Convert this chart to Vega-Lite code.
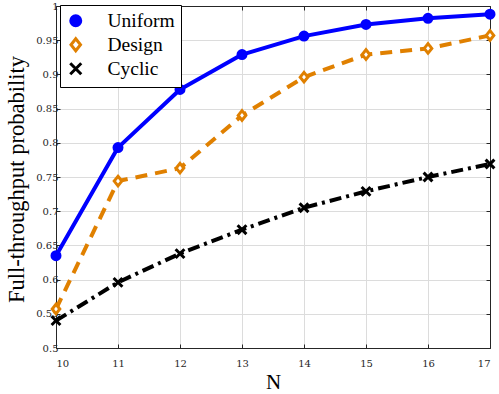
{
  "$schema": "https://vega.github.io/schema/vega-lite/v6.json",
  "width": 434,
  "height": 342,
  "autosize": {"type": "none"},
  "padding": {"left": 56, "top": 6, "right": 9, "bottom": 46},
  "background": "white",
  "data": {
    "values": [
      {"N": 10, "p": 0.635, "series": "Uniform"},
      {"N": 11, "p": 0.793, "series": "Uniform"},
      {"N": 12, "p": 0.878, "series": "Uniform"},
      {"N": 13, "p": 0.929, "series": "Uniform"},
      {"N": 14, "p": 0.956, "series": "Uniform"},
      {"N": 15, "p": 0.973, "series": "Uniform"},
      {"N": 16, "p": 0.982, "series": "Uniform"},
      {"N": 17, "p": 0.988, "series": "Uniform"},
      {"N": 10, "p": 0.557, "series": "Design"},
      {"N": 11, "p": 0.744, "series": "Design"},
      {"N": 12, "p": 0.763, "series": "Design"},
      {"N": 13, "p": 0.840, "series": "Design"},
      {"N": 14, "p": 0.896, "series": "Design"},
      {"N": 15, "p": 0.929, "series": "Design"},
      {"N": 16, "p": 0.938, "series": "Design"},
      {"N": 17, "p": 0.957, "series": "Design"},
      {"N": 10, "p": 0.540, "series": "Cyclic"},
      {"N": 11, "p": 0.596, "series": "Cyclic"},
      {"N": 12, "p": 0.638, "series": "Cyclic"},
      {"N": 13, "p": 0.673, "series": "Cyclic"},
      {"N": 14, "p": 0.705, "series": "Cyclic"},
      {"N": 15, "p": 0.729, "series": "Cyclic"},
      {"N": 16, "p": 0.750, "series": "Cyclic"},
      {"N": 17, "p": 0.769, "series": "Cyclic"}
    ]
  },
  "config": {
    "view": {"stroke": null},
    "font": "Liberation Serif",
    "axis": {
      "labelFont": "DejaVu Serif",
      "labelFontSize": 10,
      "labelColor": "#262626",
      "domainColor": "#262626",
      "tickColor": "#262626",
      "domainWidth": 1,
      "tickWidth": 1,
      "gridColor": "#dcdcdc",
      "gridWidth": 1,
      "gridOpacity": 1,
      "titleFont": "Liberation Serif",
      "titleFontWeight": "normal",
      "titleColor": "#000000"
    }
  },
  "layer": [
    {
      "transform": [{"filter": "datum.series === 'Cyclic'"}],
      "mark": {"type": "line", "strokeWidth": 4, "strokeCap": "butt", "strokeJoin": "round", "color": "#000000", "strokeDash": [12, 5, 3, 5]},
      "encoding": {
        "x": {"field": "N", "type": "quantitative", "scale": {"domain": [10, 17], "nice": false, "zero": false}, "axis": null},
        "y": {"field": "p", "type": "quantitative", "scale": {"domain": [0.5, 1], "nice": false, "zero": false}, "axis": null}
      }
    },
    {
      "transform": [{"filter": "datum.series === 'Design'"}],
      "mark": {"type": "line", "strokeWidth": 4, "strokeCap": "butt", "strokeJoin": "round", "color": "#e08000", "strokeDash": [12, 8]},
      "encoding": {
        "x": {"field": "N", "type": "quantitative", "axis": null},
        "y": {"field": "p", "type": "quantitative", "axis": null}
      }
    },
    {
      "transform": [{"filter": "datum.series === 'Uniform'"}],
      "mark": {"type": "line", "strokeWidth": 4, "strokeCap": "butt", "strokeJoin": "round", "color": "#0000ff"},
      "encoding": {
        "x": {
          "field": "N", "type": "quantitative",
          "axis": {
            "orient": "bottom", "values": [10, 11, 12, 13, 14, 15, 16, 17], "format": "d",
            "title": "N", "titleFont": "Liberation Serif", "titleFontSize": 21, "titleX": 217, "titleY": 40,
            "titleBaseline": "alphabetic", "titleAlign": "center",
            "tickSize": -4, "labelPadding": 14, "grid": true
          }
        },
        "y": {
          "field": "p", "type": "quantitative",
          "axis": {
            "orient": "left",
            "values": [0.5, 0.55, 0.6, 0.65, 0.7, 0.75, 0.8, 0.85, 0.9, 0.95, 1],
            "format": ".2~f",
            "title": "Full-throughput probability", "titleFont": "Liberation Serif", "titleFontSize": 22.5,
            "titleX": -33, "titleY": 173, "titleAngle": -90,
            "titleBaseline": "alphabetic", "titleAlign": "center",
            "tickSize": -4, "labelPadding": 2, "grid": true
          }
        }
      }
    },
    {
      "mark": {"type": "point", "size": 64, "strokeWidth": 3, "opacity": 1},
      "encoding": {
        "x": {
          "field": "N", "type": "quantitative",
          "axis": {"orient": "top", "values": [10, 11, 12, 13, 14, 15, 16, 17], "labels": false, "title": null, "grid": false, "tickSize": -4}
        },
        "y": {
          "field": "p", "type": "quantitative",
          "axis": {"orient": "right", "values": [0.5, 0.55, 0.6, 0.65, 0.7, 0.75, 0.8, 0.85, 0.9, 0.95, 1], "labels": false, "title": null, "grid": false, "tickSize": -4}
        },
        "stroke": {
          "field": "series", "type": "nominal",
          "scale": {"domain": ["Uniform", "Design", "Cyclic"], "range": ["#0000ff", "#e08000", "#000000"]},
          "legend": {
            "title": null,
            "orient": "none",
            "legendX": 4,
            "legendY": -1,
            "padding": 6,
            "rowPadding": 0,
            "strokeColor": "#000000",
            "fillColor": "#ffffff",
            "labelFont": "Liberation Serif",
            "labelFontSize": 19.5,
            "labelColor": "#000000",
            "labelOffset": 22,
            "symbolSize": 100,
            "symbolStrokeWidth": 3,
            "symbolOpacity": 1
          }
        },
        "fill": {
          "field": "series", "type": "nominal",
          "scale": {"domain": ["Uniform", "Design", "Cyclic"], "range": ["#0000ff", "#ffffff", "transparent"]}
        },
        "shape": {
          "field": "series", "type": "nominal",
          "scale": {"domain": ["Uniform", "Design", "Cyclic"], "range": ["circle", "M0,-1.2L0.95,0L0,1.2L-0.95,0Z", "M-1.1,-1.1L1.1,1.1M-1.1,1.1L1.1,-1.1"]}
        }
      }
    }
  ],
  "resolve": {"axis": {"x": "independent", "y": "independent"}}
}
